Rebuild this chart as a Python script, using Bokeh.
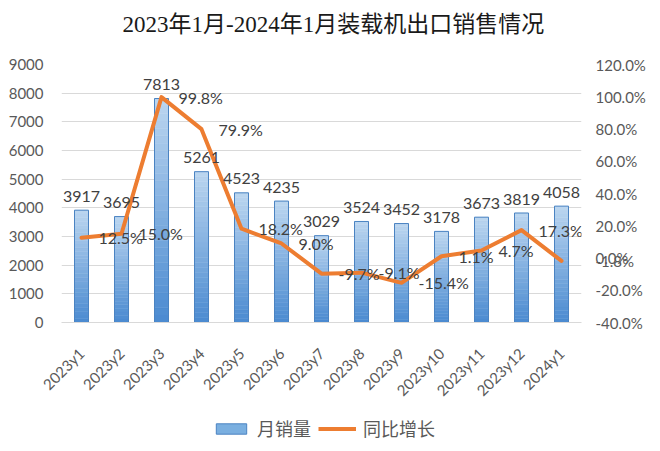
import math
from bokeh.plotting import figure
from bokeh.layouts import column
from bokeh.models import (ColumnDataSource, FactorRange, Range1d, LinearAxis, Title,
                          FixedTicker, PrintfTickFormatter, Legend, LegendItem, LabelSet)
from bokeh.core.properties import value
from bokeh.embed import file_html
from bokeh.resources import INLINE

# ---- data ----
months = ["2023y1", "2023y2", "2023y3", "2023y4", "2023y5", "2023y6", "2023y7",
          "2023y8", "2023y9", "2023y10", "2023y11", "2023y12", "2024y1"]
sales = [3917, 3695, 7813, 5261, 4523, 4235, 3029, 3524, 3452, 3178, 3673, 3819, 4058]
growth = [12.5, 15.0, 99.8, 79.9, 18.2, 9.0, -9.7, -9.1, -15.4, 1.1, 4.7, 17.3, -1.8]
left_ticks = [0, 1000, 2000, 3000, 4000, 5000, 6000, 7000, 8000, 9000]
right_ticks = [-40, -20, 0, 20, 40, 60, 80, 100, 120]
title_text = "2023年1月-2024年1月装载机出口销售情况"
bar_name = "月销量"
line_name = "同比增长"

NUM_FONT = "Lato"
CJK_FONT = "Noto Sans CJK SC"
BAR_FILL = "#7AAFE0"
BAR_LINE = "#4A83C2"
LINE_COLOR = "#ED7D31"

p = figure(width=660, height=410, x_range=FactorRange(*months),
           y_range=Range1d(left_ticks[0], left_ticks[-1]),
           output_backend="svg", toolbar_location=None,
           min_border_left=61, min_border_right=79, min_border_top=64,
           min_border_bottom=88)
p.extra_y_ranges = {"pct": Range1d(right_ticks[0], right_ticks[-1])}
p.outline_line_color = None
p.background_fill_color = "white"
p.border_fill_color = "white"

# title (spacer nearest to the frame, then the title)
p.add_layout(Title(text=" ", text_font_size="18px", standoff=6), "above")
p.add_layout(Title(text=title_text, align="left", offset=61, standoff=0,
                   text_font="Liberation Serif, Noto Sans CJK SC", text_font_size="23px",
                   text_font_style="normal", text_color="#1a1a1a"), "above")

# ---- bars with vertical gradient ----
BW = 0.35
dark = (0x4A, 0x8A, 0xD0)
light = (0xBC, 0xD6, 0xF0)
N = 30
seg_x, seg_b, seg_t, seg_c = [], [], [], []
for m, v in zip(months, sales):
    for k in range(N):
        f = (k + 0.5) / N
        c = tuple(int(round(dark[j] + (light[j] - dark[j]) * f)) for j in range(3))
        seg_x.append(m)
        seg_b.append(v * k / N)
        seg_t.append(v * (k + 1) / N)
        seg_c.append("#%02x%02x%02x" % c)
p.vbar(x="x", bottom="b", top="t", width=BW, fill_color="c", line_color="c", line_width=0.5,
       source=ColumnDataSource(dict(x=seg_x, b=seg_b, t=seg_t, c=seg_c)))
p.vbar(x=months, top=sales, width=BW, fill_alpha=0, line_color=BAR_LINE, line_width=1)

# ---- line ----
p.line(x=months, y=growth, y_range_name="pct", line_color=LINE_COLOR, line_width=4,
       line_join="round", line_cap="round")

# ---- data labels ----
p.text(x=months, y=sales, text=[str(s) for s in sales], text_align="center",
       text_baseline="alphabetic", y_offset=-14, text_font=value(NUM_FONT),
       text_font_size="16px", text_color="#404040")
# growth labels sit to the right of each point; the last one falls outside the plot
# area (as in the original), so it is shown on the right axis instead
gsrc = ColumnDataSource(dict(x=months[:-1], y=growth[:-1],
                             t=["%.1f%%" % g for g in growth[:-1]]))
p.add_layout(LabelSet(x="x", y="y", text="t", source=gsrc, y_range_name="pct",
                      text_align="left", text_baseline="middle", x_offset=17,
                      text_font=value(NUM_FONT), text_font_size="16px",
                      text_color="#404040"))

# ---- axes ----
p.yaxis.ticker = FixedTicker(ticks=left_ticks)
p.yaxis.axis_line_color = None
p.yaxis.major_tick_line_color = None
p.yaxis.minor_tick_line_color = None
p.yaxis.major_label_text_font = NUM_FONT
p.yaxis.major_label_text_font_size = "15px"
p.yaxis.major_label_text_color = "#595959"
p.yaxis.major_label_standoff = 12

ra = LinearAxis(y_range_name="pct", ticker=FixedTicker(ticks=right_ticks + [growth[-1]]),
                formatter=PrintfTickFormatter(format="%.1f%%"),
                major_label_overrides={growth[-1]: "%.1f%%" % growth[-1]})
ra.axis_line_color = None
ra.major_tick_line_color = None
ra.minor_tick_line_color = None
ra.major_label_text_font = NUM_FONT
ra.major_label_text_font_size = "15px"
ra.major_label_text_color = "#595959"
ra.major_label_text_align = "left"
ra.major_label_standoff = 8
p.add_layout(ra, "right")

p.xaxis.axis_line_color = "#D9D9D9"
p.xaxis.major_tick_line_color = None
p.xaxis.minor_tick_line_color = None
p.xaxis.major_label_orientation = math.pi / 4
p.xaxis.major_label_text_font = NUM_FONT
p.xaxis.major_label_text_font_size = "15px"
p.xaxis.major_label_text_color = "#595959"
p.xaxis.major_label_standoff = 22

p.xgrid.grid_line_color = None
p.ygrid.grid_line_color = "#D9D9D9"
p.ygrid.grid_line_width = 1

# ---- legend strip (separate figure; its glyphs sit outside the visible range) ----
lf = figure(width=660, height=41, x_range=FactorRange(*months),
            y_range=Range1d(1e6, 1e6 + 1), output_backend="svg", toolbar_location=None,
            x_axis_type=None, y_axis_type=None, min_border=0)
lf.outline_line_color = None
lf.xgrid.grid_line_color = None
lf.ygrid.grid_line_color = None
lb = lf.vbar(x=months, top=sales, width=BW, fill_color=BAR_FILL, line_color=BAR_LINE,
             line_width=1)
ll = lf.line(x=months, y=growth, line_color=LINE_COLOR, line_width=4)
legend = Legend(items=[LegendItem(label=bar_name, renderers=[lb]),
                       LegendItem(label=line_name, renderers=[ll])],
                orientation="horizontal", location=(151, 10),
                glyph_width=38, glyph_height=13, label_standoff=7, spacing=7,
                padding=0, margin=0, border_line_color=None, background_fill_alpha=0,
                label_text_font=CJK_FONT, label_text_font_size="18px",
                label_text_color="#595959")
lf.add_layout(legend, "center")

open("out.html", "w").write(file_html(column(p, lf), INLINE))
